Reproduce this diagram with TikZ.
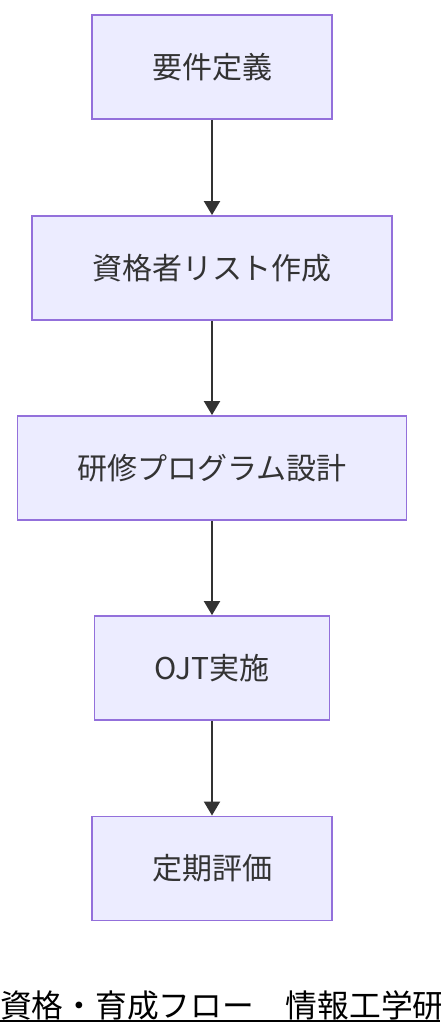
\documentclass[tikz,border=0pt]{standalone}
\usepackage{fontspec}
\newfontfamily\cjk{Noto Sans CJK JP}
\usetikzlibrary{arrows.meta,positioning}
\definecolor{boxfill}{HTML}{ECECFF}
\definecolor{boxline}{HTML}{9370DB}
\definecolor{ink}{HTML}{333333}

\begin{document}
\begin{tikzpicture}[x=0.75pt,y=-0.75pt,
    flowbox/.style={draw=boxline,fill=boxfill,line width=1.4pt,
      minimum height=78pt,inner xsep=45pt,inner ysep=0pt,
      font=\cjk\fontsize{22.5pt}{26pt}\selectfont,text=ink},
    flowarrow/.style={draw=ink,line width=1.5pt,
      -{Triangle[width=12pt,length=10.5pt]}}]
      \useasboundingbox (0,0) rectangle (440,1036);
      % Boxes
      \node[flowbox] (req) at (212,67) {要件定義};
      \node[flowbox] (list) at (212,268) {資格者リスト作成};
      \node[flowbox] (prog) at (212,468) {研修プログラム設計};
      \node[flowbox] (ojt) at (212,668) {OJT実施};
      \node[flowbox] (eval) at (212,868.5) {定期評価};
      % Arrows
      \draw[flowarrow] (req) -- (list);
      \draw[flowarrow] (list) -- (prog);
      \draw[flowarrow] (prog) -- (ojt);
      \draw[flowarrow] (ojt) -- (eval);
      % Title
      \node[anchor=base west,inner sep=0pt,font=\cjk\fontsize{23.8pt}{27pt}\selectfont]
        (title) at (0,1017.5) {資格・育成フロー　情報工学研};
      \draw[line width=1.5pt] (0,1021) -- (440,1021);
    \end{tikzpicture}
\end{document}
